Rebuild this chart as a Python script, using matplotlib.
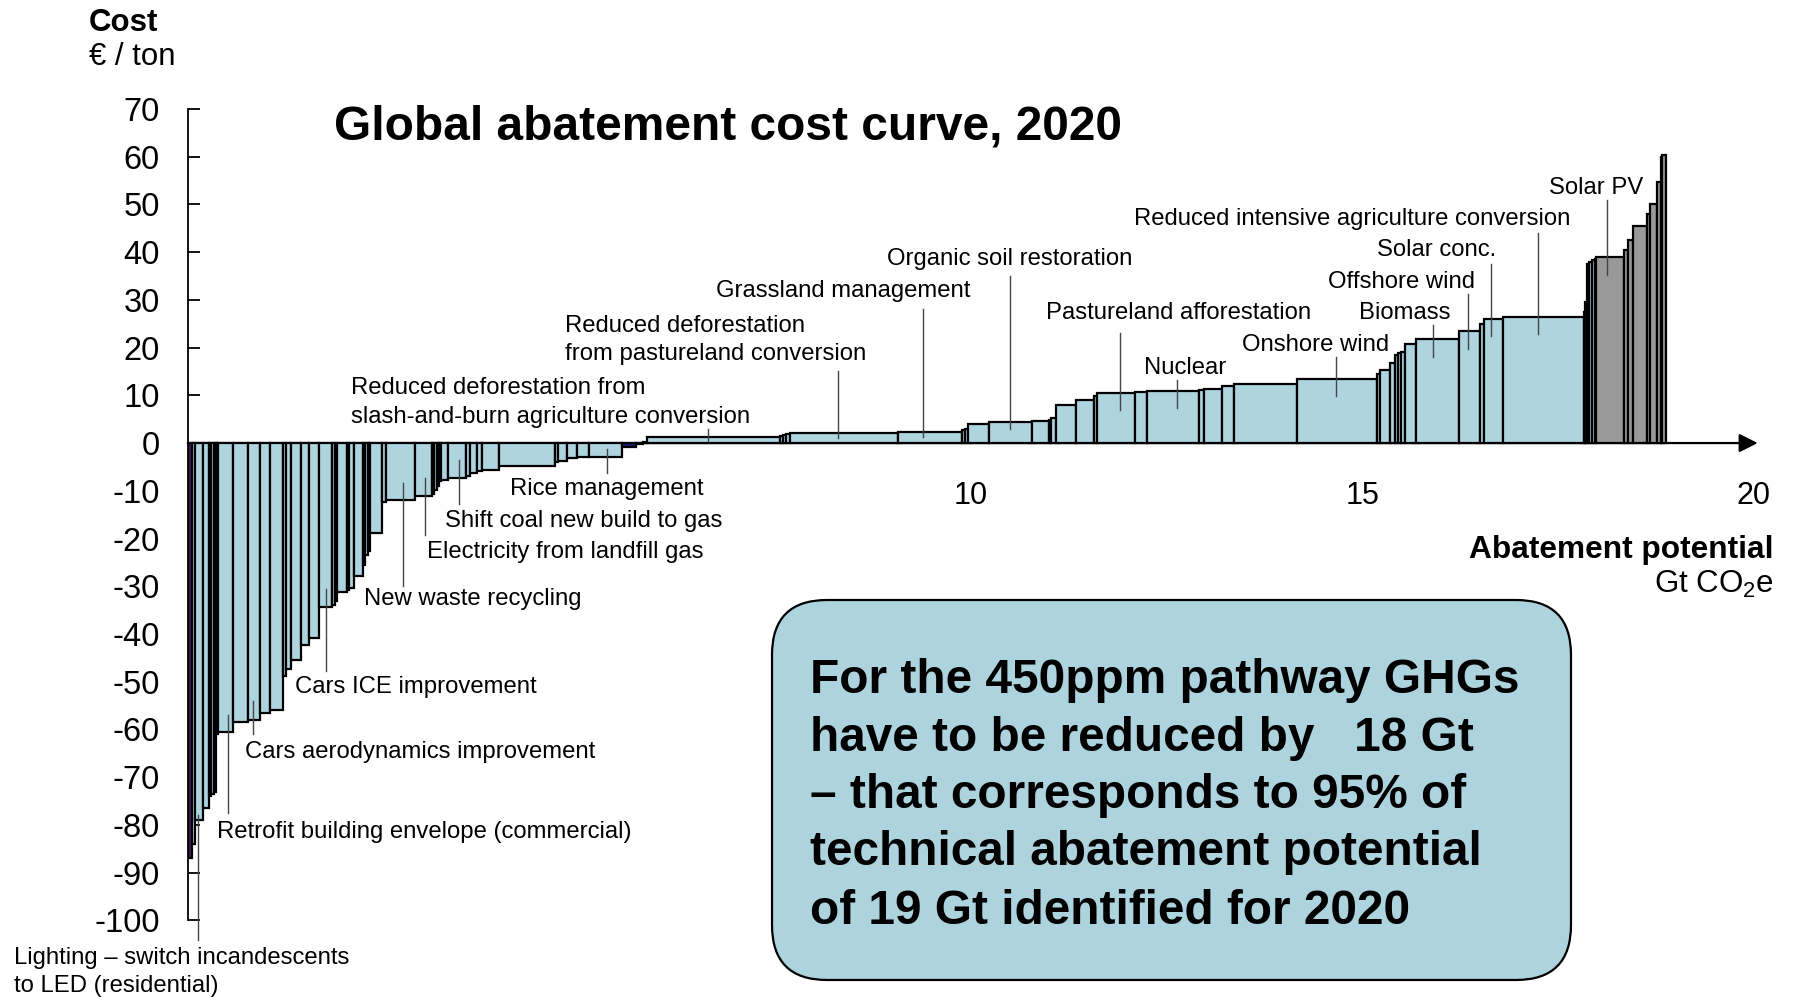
import numpy as np
import matplotlib
matplotlib.use("Agg")
import matplotlib.pyplot as plt
from matplotlib.patches import FancyBboxPatch

plt.rcParams['font.family'] = ['Liberation Sans', 'DejaVu Sans']
plt.rcParams['mathtext.fontset'] = 'custom'
plt.rcParams['mathtext.rm'] = 'Liberation Sans'
plt.rcParams['axes.unicode_minus'] = False

# abatement potential of each lever (Gt CO2e), in curve order
widths = [0.055, 0.043, 0.094, 0.076, 0.030, 0.032, 0.032, 0.021, 0.200, 0.183,
          0.158, 0.128, 0.161, 0.043, 0.064, 0.127, 0.098, 0.137, 0.161, 0.037,
          0.030, 0.120, 0.030, 0.070, 0.110, 0.030, 0.030, 0.030, 0.150, 0.050,
          0.370, 0.220, 0.030, 0.030, 0.030, 0.030, 0.090, 0.230, 0.050, 0.080,
          0.070, 0.210, 0.720, 0.040, 0.120, 0.120, 0.160, 0.420, 0.180, 0.090,
          0.050, 1.700, 0.030, 0.040, 0.050, 1.380, 0.815, 0.043, 0.042, 0.260,
          0.550, 0.220, 0.030, 0.060, 0.260, 0.220, 0.040, 0.490, 0.150, 0.660,
          0.070, 0.230, 0.150, 0.810, 1.020, 0.040, 0.130, 0.060, 0.040, 0.040,
          0.050, 0.130, 0.560, 0.260, 0.050, 0.250, 1.030, 0.020, 0.020, 0.030,
          0.030, 0.040, 0.020, 0.350, 0.050, 0.070, 0.180, 0.030, 0.090, 0.050,
          0.020, 0.050]

# cost of each lever (EUR / ton)
costs = [-87, -84, -79, -76.5, -74, -73.5, -73, -61, -60.5, -58.4,
         -58, -56.5, -55.9, -48.8, -47.4, -45.4, -42.4, -40.8, -34.3, -34,
         -33, -31.2, -30.8, -30.3, -27.9, -25.5, -23.5, -22.6, -18.8, -12.3,
         -12.0, -11.1, -10.6, -9.8, -9.0, -7.9, -7.7, -7.3, -6.9, -6.2,
         -5.8, -5.6, -4.8, -3.9, -3.7, -3.2, -3.0, -2.9, -0.8, -0.3,
         0.2, 1.2, 1.5, 1.7, 1.9, 2.2, 2.3, 2.7, 3.0, 3.9,
         4.5, 4.6, 4.8, 5.2, 8.0, 9.0, 9.9, 10.5, 10.7, 10.9,
         11.1, 11.3, 12.0, 12.3, 13.4, 14.5, 15.3, 16.8, 18.5, 18.9,
         19.1, 20.7, 21.8, 23.4, 25.0, 26.0, 26.5, 27.5, 29.5, 37.6,
         38.0, 38.3, 38.6, 38.9, 40.5, 42.5, 45.4, 48, 50, 54.7,
         60, 60.3]

# lever labels: (text, left x, y)
labels = [
    ("Lighting \u2013 switch incandescents", -2.22, -107.8),
    ("to LED (residential)", -2.22, -113.8),
    ("Retrofit building envelope (commercial)", 0.38, -81.4),
    ("Cars aerodynamics improvement", 0.73, -64.8),
    ("Cars ICE improvement", 1.37, -51.1),
    ("New waste recycling", 2.25, -32.7),
    ("Electricity from landfill gas", 3.06, -22.8),
    ("Shift coal new build to gas", 3.29, -16.4),
    ("Rice management", 4.11, -9.7),
    ("Reduced deforestation from", 2.08, 11.5),
    ("slash-and-burn agriculture conversion", 2.08, 5.5),
    ("Reduced deforestation", 4.82, 24.6),
    ("from pastureland conversion", 4.82, 18.6),
    ("Grassland management", 6.75, 31.8),
    ("Organic soil restoration", 8.93, 38.5),
    ("Pastureland afforestation", 10.96, 27.3),
    ("Nuclear", 12.21, 15.8),
    ("Onshore wind", 13.46, 20.6),
    ("Biomass", 14.96, 27.3),
    ("Offshore wind", 14.56, 33.8),
    ("Solar conc.", 15.19, 40.5),
    ("Reduced intensive agriculture conversion", 12.09, 46.9),
    ("Solar PV", 17.38, 53.5),
]

# leader lines: (x, y top, y bottom)
leaders = [
    (0.13, -78, -104), (0.52, -57, -77.5), (0.84, -54, -61), (1.77, -30.5, -47.8),
    (2.75, -8.3, -30), (3.03, -7.3, -19.3), (3.47, -3.6, -12.8), (5.35, -1.3, -6.2),
    (6.64, 2.9, 0.5), (8.31, 15, 1), (9.39, 28, 1.3), (10.5, 35, 2.9),
    (11.91, 23, 6.9), (12.64, 13.2, 7.3), (14.66, 18.1, 9.8), (15.9, 24.7, 18.1),
    (16.35, 31.3, 19.8), (16.65, 37.6, 22.4), (17.24, 44, 22.8), (18.13, 51, 35.2),
]

box_lines = [
    "For the 450ppm pathway GHGs",
    "have to be reduced by   18 Gt",
    "\u2013 that corresponds to 95% of",
    "technical abatement potential",
    "of 19 Gt identified for 2020",
]

LIGHT_BLUE = '#aed4df'

widths = np.array(widths)
costs = np.array(costs)
lefts = np.concatenate([[0], np.cumsum(widths)[:-1]])
colors = [LIGHT_BLUE] * len(costs)
colors[0] = '#3d1a5b'
colors[48] = '#1c1c70'
for i in range(93, len(costs)):
    colors[i] = '#999999'

fig = plt.figure(figsize=(17.95, 9.97), dpi=100)
ax = fig.add_axes([0.10457, 0.0768, 0.9161, 0.814])

ax.bar(lefts, costs, width=widths, align='edge', color=colors,
       edgecolor='black', linewidth=1.6, zorder=3)

ax.set_xlim(0, 21)
ax.set_ylim(-100, 70)

ax.spines['top'].set_visible(False)
ax.spines['right'].set_visible(False)
ax.spines['bottom'].set_position(('data', 0))
ax.spines['bottom'].set_visible(False)
ax.spines['left'].set_bounds(-100, 70)
ax.spines['left'].set_linewidth(1.3)

ax.set_yticks(np.arange(-100, 71, 10))
ax.tick_params(axis='y', direction='in', length=8.6, width=1.3, labelsize=23.5, pad=20)
ax.set_xticks([10, 15, 20])
ax.tick_params(axis='x', length=0, labelsize=22, pad=27.5)

ax.annotate('', xy=(20.05, 0), xytext=(0, 0),
            arrowprops=dict(arrowstyle='-|>', mutation_scale=28, lw=1.6,
                            color='black', shrinkA=0, shrinkB=0), zorder=2)

for x, y0, y1 in leaders:
    ax.plot([x, x], [y0, y1], color='#444444', lw=1.0, zorder=4, clip_on=False)

for text, x, y in labels:
    ax.text(x, y, text, ha='left', va='center', fontsize=17.2, zorder=5)

fig.text(0.1861, 0.8731, "Global abatement cost curve, 2020",
         fontsize=34.5, fontweight='bold', va='center', ha='left')
fig.text(0.0496, 0.9767, "Cost", fontsize=22.5, fontweight='bold', va='center')
fig.text(0.0496, 0.9425, "\u20ac / ton", fontsize=22.5, va='center')
fig.text(0.9883, 0.4488, "Abatement potential", fontsize=22.8,
         fontweight='bold', ha='right', va='center')
fig.text(0.9883, 0.4142, r"Gt CO$_\mathrm{2}$e", fontsize=22.5, ha='right', va='center')

box = FancyBboxPatch((7.72, 0.17), 7.99, 3.80,
                     boxstyle='round,pad=0,rounding_size=0.55',
                     transform=fig.dpi_scale_trans, facecolor='#add3de',
                     edgecolor='black', linewidth=1.6)
fig.add_artist(box)

line_y = [680, 738.4, 795.4, 852.9, 911.2]
for text, yp in zip(box_lines, line_y):
    fig.text(810.5 / 1795, 1 - yp / 997, text, fontsize=34.4,
             fontweight='bold', ha='left', va='center')

fig.savefig("out.png", dpi=100)
